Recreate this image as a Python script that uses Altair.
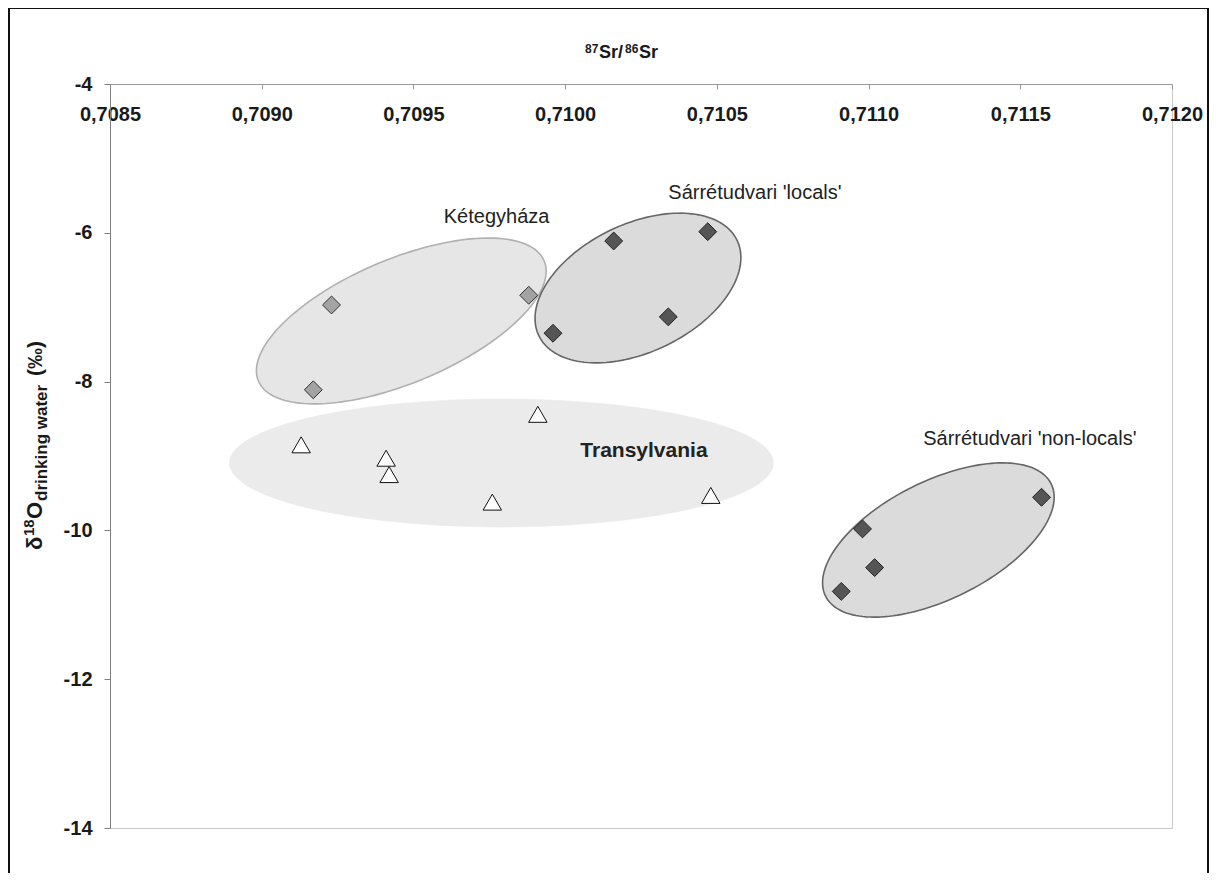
import math
import altair as alt
import pandas as pd

# ---------------- data ----------------
ket_x = [0.70923, 0.70917, 0.70988]
ket_y = [-6.97, -8.11, -6.84]

loc_x = [0.71016, 0.71047, 0.71034, 0.70996]
loc_y = [-6.11, -5.985, -7.13, -7.35]

nonloc_x = [0.71157, 0.71098, 0.71102, 0.71091]
nonloc_y = [-9.555, -9.98, -10.50, -10.82]

tra_x = [0.70913, 0.70941, 0.70942, 0.70976, 0.70991, 0.71048]
tra_y = [-8.85, -9.03, -9.25, -9.62, -8.44, -9.53]

x_ticks = [0.7085, 0.7090, 0.7095, 0.7100, 0.7105, 0.7110, 0.7115, 0.7120]
y_ticks = [-14, -12, -10, -8, -6, -4]

# group labels (text, x, y, bold)
lab_text = ["Kétegyháza", "Sárrétudvari 'locals'", "Sárrétudvari 'non-locals'", "Transylvania"]
lab_x = [0.70960, 0.71034, 0.71118, 0.71005]
lab_y = [-5.868, -5.546, -8.852, -9.009]
lab_bold = [False, False, False, True]

# group ellipses: centre (data units)
ell_cx = [0.70979, 0.70946, 0.71024, 0.71123]
ell_cy = [-9.094, -7.185, -6.742, -10.129]

# ---------------- layout / geometry ----------------
W, H = 1062, 744
XDOM = [0.7085, 0.7120]
YDOM = [-14, -4]
XSPAN = XDOM[1] - XDOM[0]
YSPAN = YDOM[1] - YDOM[0]

# ellipse shape: semi-axes (px) and tilt (deg)
ell_geom = [(272, 64, 0), (155, 62, 22.8), (110, 64, 25.7), (126, 59, 26.5)]
ell_style = [
    dict(fill="#ebebeb", stroke="#ebebeb", strokeWidth=0.5),
    dict(fill="#e6e6e6", stroke="#b0b0b0", strokeWidth=1.6),
    dict(fill="#dbdbdb", stroke="#666666", strokeWidth=1.6),
    dict(fill="#dbdbdb", stroke="#666666", strokeWidth=1.6),
]


def ellipse_df(cx, cy, a, b, deg, n=160):
    th = math.radians(deg)
    rows = []
    for i in range(n + 1):
        t = 2 * math.pi * i / n
        dx = a * math.cos(t) * math.cos(th) - b * math.sin(t) * math.sin(th)
        dy = a * math.cos(t) * math.sin(th) + b * math.sin(t) * math.cos(th)
        rows.append({"x": cx + dx * XSPAN / W, "y": cy + dy * YSPAN / H, "i": i})
    return pd.DataFrame(rows)


FONT = "Liberation Sans"

x_enc = alt.X(
    "x:Q",
    scale=alt.Scale(domain=XDOM, nice=False, zero=False),
    axis=alt.Axis(
        orient="bottom", offset=-H, values=x_ticks,
        labelExpr="replace(format(datum.value, '.4f'), '.', ',')",
        title=None,
        domainColor="#999999", tickColor="#999999", tickSize=5,
        labelPadding=15, labelFont=FONT, labelFontSize=20,
        labelFontWeight="bold", labelColor="#1a1a1a",
        labelFlush=False, labelOverlap=False, grid=False,
    ),
)
y_enc = alt.Y(
    "y:Q",
    scale=alt.Scale(domain=YDOM, nice=False, zero=False),
    axis=alt.Axis(
        values=y_ticks, labelExpr="'' + datum.value", title=None,
        domainColor="#808080", tickColor="#808080", tickSize=6,
        labelPadding=12, labelFont=FONT, labelFontSize=20,
        labelFontWeight="bold", labelColor="#1a1a1a",
        labelFlush=False, labelOverlap=False, grid=False,
    ),
)

layers = []

# ellipses
for k in range(len(ell_cx)):
    a, b, deg = ell_geom[k]
    df = ellipse_df(ell_cx[k], ell_cy[k], a, b, deg)
    layers.append(
        alt.Chart(df).mark_line(**ell_style[k]).encode(
            x=x_enc, y=y_enc, order="i:Q"
        )
    )

# points
ket_df = pd.DataFrame({"x": ket_x, "y": ket_y})
sar_df = pd.DataFrame({"x": loc_x + nonloc_x, "y": loc_y + nonloc_y})
tra_df = pd.DataFrame({"x": tra_x, "y": tra_y})

layers.append(
    alt.Chart(ket_df).mark_point(
        shape="diamond", size=320, filled=True, fill="#a3a3a3",
        stroke="#333333", strokeWidth=1, opacity=1
    ).encode(x=x_enc, y=y_enc)
)
layers.append(
    alt.Chart(sar_df).mark_point(
        shape="diamond", size=320, filled=True, fill="#555555",
        stroke="#222222", strokeWidth=1, opacity=1
    ).encode(x=x_enc, y=y_enc)
)
layers.append(
    alt.Chart(tra_df).mark_point(
        shape="triangle-up", size=340, filled=True, fill="#ffffff",
        stroke="#111111", strokeWidth=1, opacity=1
    ).encode(x=x_enc, y=y_enc)
)

# group labels
lab_df = pd.DataFrame({"x": lab_x, "y": lab_y, "t": lab_text, "b": lab_bold})
layers.append(
    alt.Chart(lab_df[~lab_df["b"]]).mark_text(
        align="left", baseline="alphabetic", font=FONT, fontSize=20,
        color="#222222"
    ).encode(x=x_enc, y=y_enc, text="t:N")
)
layers.append(
    alt.Chart(lab_df[lab_df["b"]]).mark_text(
        align="left", baseline="alphabetic", font=FONT, fontSize=21,
        fontWeight="bold", color="#222222"
    ).encode(x=x_enc, y=y_enc, text="t:N")
)

one = pd.DataFrame({"d": [0]})

# x-axis title built from pieces (superscripts)
xtitle_parts = [
    ("87", 12, 475, -31),
    ("Sr/", 18, 489, -26),
    ("86", 12, 515, -31),
    ("Sr", 18, 529, -26),
]
for txt, fs, px, py in xtitle_parts:
    layers.append(
        alt.Chart(one).mark_text(
            text=txt, align="left", baseline="alphabetic",
            font=FONT, fontSize=fs, fontWeight="bold", color="#1a1a1a"
        ).encode(x=alt.value(px), y=alt.value(py))
    )

# y-axis title built from pieces (super/subscripts), rotated
title_parts = [
    ("δ", 22, -68, 466),
    ("18", 15, -76, 452),
    ("O", 22, -68, 435),
    ("drinking water", 17, -63, 417),
    ("(‰)", 21, -68, 292),
]
for txt, fs, px, py in title_parts:
    layers.append(
        alt.Chart(one).mark_text(
            text=txt, angle=270, align="left", baseline="alphabetic",
            font=FONT, fontSize=fs, fontWeight="bold", color="#1a1a1a"
        ).encode(x=alt.value(px), y=alt.value(py))
    )

# outer frame
layers.append(
    alt.Chart(one).mark_rect(
        fill="transparent", stroke="#111111", strokeWidth=2
    ).encode(
        x=alt.value(-101), x2=alt.value(1098),
        y=alt.value(-76), y2=alt.value(830)
    )
)

chart = alt.layer(*layers).properties(
    width=W, height=H,
    padding={"left": 102, "top": 76, "right": 37, "bottom": 45},
    autosize="none", background="white",
).configure_view(stroke="#c8c8c8", strokeWidth=1)

chart.save("out.html", embed_options={"renderer": "svg", "actions": False})
